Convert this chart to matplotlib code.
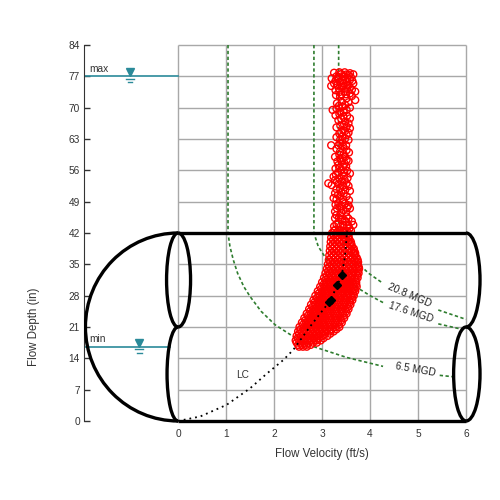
import matplotlib.pyplot as plt
from matplotlib.patches import Arc

plt.rcParams['font.family'] = ['Liberation Sans', 'DejaVu Sans']

# axis values
depth_ticks = [0, 7, 14, 21, 28, 35, 42, 49, 56, 63, 70, 77, 84]
vel_ticks = [0, 1, 2, 3, 4, 5, 6]
PIPE_TOP = 42
VEL_END = 6

# water levels
max_level = 77
min_level = 16.5
max_sym_x = -1.0
min_sym_x = -0.81
min_line_end = -0.17

# iso flow curves
q65_x = [1.04, 1.04, 1.08, 1.15, 1.24, 1.37, 1.5, 1.73, 2.02, 2.41, 2.8, 3.51, 4.27]
q65_y = [84, 42, 39, 36, 33, 30, 27.8, 24.5, 21.5, 18.8, 16.7, 14.2, 12.2]
q65_x2 = [5.45, 5.72]
q65_y2 = [10.2, 9.9]

q176_x = [2.83, 2.83, 2.92, 3.10, 3.36, 3.70, 4.0, 4.28]
q176_y = [84, 42, 39, 36, 33, 30, 28, 26.4]
q176_x2 = [5.42, 5.95]
q176_y2 = [21.7, 20.4]

q208_x = [3.345, 3.345, 3.46, 3.67, 3.97, 4.25]
q208_y = [84, 42, 39, 36, 33, 30.9]
q208_x2 = [5.42, 6.0]
q208_y2 = [24.8, 22.7]

flow_labels = ['20.8 MGD', '17.6 MGD', '6.5 MGD']
flow_label_x = [4.83, 4.85, 4.94]
flow_label_y = [28.1, 24.2, 11.4]
flow_label_rot = [-23, -18, -10]

# LC line
lc_x = [0, 0.46, 1.01, 1.5, 1.85, 2.19, 2.40, 2.75, 3.17, 3.32, 3.41, 3.48, 3.52]
lc_y = [0, 1.0, 3.6, 7.3, 10.6, 13.6, 15.9, 21.1, 26.9, 30.4, 32.6, 37, 42.5]

# black diamonds
dia_x = [3.41, 3.32, 3.19, 3.15]
dia_y = [32.7, 30.4, 27.1, 26.6]

# measured points - lower cloud, row by row
blob_rows_y = [16.6, 17.0, 17.5, 18.0, 18.5, 19.0, 19.5, 20.0, 20.5, 21.0, 21.5, 22.0,
               22.5, 23.0, 23.5, 24.0, 24.5, 25.0, 25.5, 26.0, 26.5, 27.0, 27.5, 28.0,
               28.5, 29.0, 29.5, 30.0, 30.5, 31.0, 31.5, 32.0, 32.5, 33.0, 33.5, 34.0,
               34.5, 35.0, 35.5, 36.0, 36.5, 37.0, 37.5, 38.0, 38.5, 39.0, 39.5, 40.0,
               40.5, 41.0, 41.5, 42.0, 42.5]
blob_rows_x = [
    [2.52, 2.60, 2.68],
    [2.50, 2.58, 2.67, 2.76],
    [2.47, 2.55, 2.64, 2.72, 2.81, 2.89],
    [2.45, 2.53, 2.62, 2.70, 2.79, 2.88, 2.97],
    [2.49, 2.58, 2.66, 2.75, 2.84, 2.93, 3.03],
    [2.47, 2.56, 2.65, 2.74, 2.83, 2.92, 3.01, 3.11],
    [2.52, 2.61, 2.70, 2.79, 2.88, 2.97, 3.06, 3.17],
    [2.50, 2.59, 2.68, 2.77, 2.86, 2.95, 3.05, 3.15, 3.24],
    [2.55, 2.64, 2.73, 2.82, 2.91, 3.00, 3.10, 3.20, 3.30],
    [2.53, 2.62, 2.71, 2.80, 2.89, 2.98, 3.08, 3.18, 3.28, 3.36],
    [2.60, 2.69, 2.78, 2.87, 2.96, 3.05, 3.15, 3.25, 3.35],
    [2.58, 2.67, 2.76, 2.85, 2.94, 3.03, 3.13, 3.23, 3.33, 3.41],
    [2.65, 2.74, 2.83, 2.92, 3.01, 3.10, 3.20, 3.30, 3.40],
    [2.63, 2.72, 2.81, 2.90, 2.99, 3.08, 3.18, 3.28, 3.38, 3.46],
    [2.70, 2.79, 2.88, 2.97, 3.06, 3.15, 3.25, 3.35, 3.45],
    [2.68, 2.77, 2.86, 2.95, 3.04, 3.13, 3.23, 3.33, 3.43, 3.51],
    [2.75, 2.84, 2.93, 3.02, 3.11, 3.20, 3.30, 3.40, 3.50],
    [2.73, 2.82, 2.91, 3.00, 3.09, 3.18, 3.28, 3.38, 3.48, 3.55],
    [2.80, 2.89, 2.98, 3.07, 3.16, 3.25, 3.35, 3.45, 3.54],
    [2.77, 2.86, 2.95, 3.04, 3.13, 3.22, 3.32, 3.42, 3.52, 3.59],
    [2.84, 2.93, 3.02, 3.11, 3.20, 3.29, 3.39, 3.49, 3.58],
    [2.82, 2.91, 3.00, 3.09, 3.18, 3.27, 3.37, 3.47, 3.57, 3.63],
    [2.89, 2.98, 3.07, 3.16, 3.25, 3.34, 3.44, 3.53, 3.62],
    [2.86, 2.95, 3.04, 3.13, 3.22, 3.31, 3.41, 3.51, 3.60, 3.66],
    [2.93, 3.02, 3.11, 3.20, 3.29, 3.38, 3.47, 3.56, 3.65],
    [2.91, 3.00, 3.09, 3.18, 3.27, 3.36, 3.45, 3.54, 3.63, 3.69],
    [2.98, 3.07, 3.16, 3.25, 3.34, 3.43, 3.52, 3.61, 3.68],
    [2.96, 3.05, 3.14, 3.23, 3.32, 3.41, 3.50, 3.59, 3.67, 3.72],
    [3.03, 3.12, 3.21, 3.30, 3.39, 3.48, 3.57, 3.65, 3.71],
    [3.00, 3.09, 3.18, 3.27, 3.36, 3.45, 3.54, 3.63, 3.71],
    [3.07, 3.16, 3.25, 3.34, 3.43, 3.52, 3.61, 3.70],
    [3.04, 3.13, 3.22, 3.31, 3.40, 3.49, 3.58, 3.67, 3.74],
    [3.10, 3.19, 3.28, 3.37, 3.46, 3.55, 3.64, 3.73],
    [3.07, 3.16, 3.25, 3.34, 3.43, 3.52, 3.61, 3.70, 3.76],
    [3.13, 3.22, 3.31, 3.40, 3.49, 3.58, 3.67, 3.75],
    [3.10, 3.19, 3.28, 3.37, 3.46, 3.55, 3.64, 3.72, 3.77],
    [3.15, 3.24, 3.33, 3.42, 3.51, 3.60, 3.69, 3.76],
    [3.12, 3.21, 3.30, 3.39, 3.48, 3.57, 3.66, 3.74],
    [3.17, 3.26, 3.35, 3.44, 3.53, 3.62, 3.70, 3.75],
    [3.14, 3.23, 3.32, 3.41, 3.50, 3.59, 3.68, 3.74],
    [3.19, 3.28, 3.37, 3.46, 3.55, 3.64, 3.72],
    [3.15, 3.24, 3.33, 3.42, 3.51, 3.60, 3.68],
    [3.20, 3.29, 3.38, 3.47, 3.56, 3.65, 3.69],
    [3.16, 3.25, 3.34, 3.43, 3.52, 3.61, 3.67],
    [3.21, 3.30, 3.39, 3.48, 3.57, 3.66],
    [3.17, 3.26, 3.35, 3.44, 3.53, 3.62],
    [3.22, 3.31, 3.40, 3.49, 3.58, 3.61],
    [3.18, 3.27, 3.36, 3.45, 3.54, 3.60],
    [3.23, 3.32, 3.41, 3.50, 3.57],
    [3.19, 3.28, 3.37, 3.46, 3.55],
    [3.24, 3.33, 3.42, 3.51],
    [3.21, 3.30, 3.39, 3.48, 3.55],
    [3.25, 3.34, 3.43, 3.51],
]

# measured points - upper column
col_x = [3.20, 3.19, 3.65, 3.55, 3.44, 3.34, 3.375, 3.48, 3.58, 3.51, 3.41, 3.31, 3.65,
         3.69, 3.58, 3.48, 3.29, 3.375, 3.51, 3.69, 3.41, 3.31, 3.48, 3.22, 3.375, 3.51,
         3.44, 3.58, 3.34, 3.48, 3.51, 3.44, 3.51, 3.48, 3.375, 3.19, 3.34, 3.44, 3.51,
         3.375, 3.48, 3.27, 3.51, 3.41, 3.34, 3.44, 3.58, 3.24, 3.13, 3.20, 3.31, 3.41,
         3.51, 3.375, 3.48, 3.58, 3.27, 3.24, 3.375, 3.51, 3.34, 3.48, 3.55, 3.31, 3.44,
         3.375, 3.51, 3.27, 3.65, 3.34, 3.44, 3.55, 3.375, 3.27, 3.48,
         3.30, 3.40, 3.50, 3.60, 3.45, 3.55, 3.35, 3.62, 3.28, 3.40, 3.52, 3.42,
         3.42, 3.36, 3.46, 3.40, 3.55, 3.43, 3.45, 3.38, 3.47, 3.40, 3.33, 3.45, 3.36,
         3.44, 3.30, 3.44, 3.40, 3.36, 3.50, 3.42, 3.30, 3.50, 3.40, 3.30, 3.55,
         3.25, 3.36, 3.47, 3.58, 3.33, 3.53, 3.63, 3.25, 3.45, 3.58, 3.36, 3.50, 3.28, 3.62,
         3.55, 3.35, 3.58, 3.30, 3.45, 3.28, 3.52, 3.40, 3.55, 3.38, 3.30, 3.58,
         3.36, 3.48, 3.30, 3.42, 3.55, 3.38, 3.50, 3.30, 3.56, 3.36, 3.43, 3.55, 3.32, 3.50,
         3.28, 3.36, 3.52, 3.46, 3.29, 3.53, 3.27, 3.47, 3.34, 3.55, 3.40, 3.33, 3.45, 3.30,
         3.56, 3.28, 3.43, 3.58, 3.52, 3.27, 3.40, 3.30, 3.55, 3.35, 3.47, 3.62, 3.25, 3.57,
         3.38, 3.60, 3.45]
col_y = [76.55, 74.85, 77.45, 77.3, 76.9, 76.9, 75.8, 76.2, 76.2, 75.1, 74.7, 75.1, 75.4,
         73.6, 73.2, 73.6, 72.8, 72.5, 72.1, 71.7, 71.3, 71.0, 70.6, 69.5, 69.1, 69.5,
         68.0, 67.6, 67.2, 66.9, 65.8, 65.0, 63.9, 63.1, 62.8, 61.6, 61.6, 61.3, 60.5,
         60.2, 59.0, 59.0, 58.3, 57.9, 57.2, 56.8, 55.3, 54.6, 53.1, 52.7, 53.5, 53.5,
         53.1, 52.0, 51.6, 51.4, 50.9, 49.8, 50.2, 50.2, 48.6, 48.6, 48.2, 47.5, 47.1,
         46.0, 45.7, 45.3, 43.8, 44.2, 43.8, 43.6, 42.7, 42.7, 42.3,
         77.0, 77.5, 77.4, 76.8, 75.5, 75.0, 74.3, 74.0, 76.0, 73.0, 74.2, 76.1,
         70.2, 68.6, 66.2, 64.5, 64.4, 62.2, 59.6, 58.6, 57.5, 56.0, 55.5, 54.8, 54.2,
         52.6, 51.8, 49.5, 48.0, 47.8, 46.7, 45.0, 44.0, 44.5, 41.8, 41.5, 41.4,
         77.8, 77.9, 77.9, 77.7, 76.3, 76.6, 76.0, 75.4, 74.8, 74.5, 73.5, 73.0, 73.9, 72.6,
         71.2, 70.4, 70.0, 69.8, 69.0, 68.3, 68.2, 67.5, 66.5, 66.0, 65.6, 65.4,
         64.2, 64.8, 63.4, 63.5, 62.8, 61.9, 61.6, 60.8, 60.0, 59.5, 58.7, 58.1, 58.0, 56.9,
         56.4, 56.5, 55.9, 55.6, 55.0, 54.3, 53.8, 53.8, 52.9, 52.5, 51.1, 50.5, 50.8, 49.5,
         49.3, 48.3, 48.9, 47.5, 47.6, 46.8, 46.5, 46.0, 45.2, 45.4, 44.8, 44.6, 43.5, 43.0,
         43.4, 42.5, 42.0]

blob_x = [x for row in blob_rows_x for x in row]
blob_y = [y for y, row in zip(blob_rows_y, blob_rows_x) for _ in row]

TEAL = '#2a8a99'
GREEN = '#2f7d2f'
GRID = '#a8a8a8'
TXT = '#333333'
FS = 7.3
PIPE_LW = 2.4

fig = plt.figure(figsize=(5, 5), dpi=100)
ax = fig.add_axes([0.168, 0.1446, 0.7978, 0.7788])
ax.set_xlim(-1.96, 6.35)
ax.set_ylim(-1.5, 85.5)

# grid only over the velocity range
ax.vlines(vel_ticks, 0, depth_ticks[-1], color=GRID, lw=1, zorder=1)
ax.hlines(depth_ticks, 0, VEL_END, color=GRID, lw=1, zorder=1)

# iso-flow curves
ls_g = (0, (2, 1.5))
for xs, ys in [(q65_x, q65_y), (q65_x2, q65_y2), (q176_x, q176_y), (q176_x2, q176_y2),
               (q208_x, q208_y), (q208_x2, q208_y2)]:
    ax.plot(xs, ys, color=GREEN, lw=1.2, ls=ls_g, zorder=2)
for lab, lx, ly, rot in zip(flow_labels, flow_label_x, flow_label_y, flow_label_rot):
    ax.text(lx, ly, lab, fontsize=FS, color='#222222', rotation=rot,
            ha='center', va='center', rotation_mode='anchor', zorder=7)

# water levels
ax.plot([-1.96, 0], [max_level, max_level], color=TEAL, lw=1.2, zorder=2)
ax.plot([-1.96, min_line_end], [min_level, min_level], color=TEAL, lw=1.2, zorder=2)
for sx, lev, name in [(max_sym_x, max_level, 'max'), (min_sym_x, min_level, 'min')]:
    ax.plot(sx, lev + 0.9, marker='v', ms=6, color=TEAL, ls='none', zorder=3)
    ax.plot([sx - 0.085, sx + 0.085], [lev - 0.5, lev - 0.5], color=TEAL, lw=1, zorder=3)
    ax.plot([sx - 0.05, sx + 0.05], [lev - 1.2, lev - 1.2], color=TEAL, lw=1, zorder=3)
    ax.text(-1.84, lev + 0.6, name, fontsize=FS, color=TXT, ha='left', va='bottom')

# measured data
ax.scatter(col_x + blob_x, col_y + blob_y, s=25, facecolors='none',
           edgecolors='red', linewidths=1.0, zorder=3)
ax.plot(lc_x, lc_y, color='black', lw=1.3, ls=(0, (1, 2.2)), zorder=4)
ax.plot(dia_x, dia_y, 'D', color='black', ms=4, ls='none', zorder=5)
ax.text(1.35, 10.3, 'LC', fontsize=FS, color=TXT, ha='center', va='center')

# pipe outline
pipe_kw = dict(color='black', lw=PIPE_LW, zorder=6)
ax.plot([0, VEL_END], [PIPE_TOP, PIPE_TOP], solid_capstyle='butt', **pipe_kw)
ax.plot([0, VEL_END], [0, 0], solid_capstyle='butt', **pipe_kw)
arcs = [
    ((0, 21), 3.86, 42, 90, 270),
    ((0, 31.5), 0.48, 21, 90, 270),
    ((0, 31.5), 0.52, 21, -90, 90),
    ((0, 10.5), 0.46, 21, 90, 270),
    ((6, 31.5), 0.58, 21, -90, 90),
    ((6, 10.5), 0.52, 21, 90, 270),
    ((6, 10.5), 0.58, 21, -90, 90),
]
for xy, w, h, t1, t2 in arcs:
    ax.add_patch(Arc(xy, w, h, theta1=t1, theta2=t2, **pipe_kw))

# axes styling
for s in ['top', 'right', 'bottom']:
    ax.spines[s].set_visible(False)
ax.spines['left'].set_bounds(0, 84)
ax.spines['left'].set_color(TXT)
ax.set_yticks(depth_ticks)
ax.set_xticks(vel_ticks)
ax.tick_params(axis='y', direction='in', length=4.3, width=1, color=TXT,
               labelsize=FS, labelcolor=TXT, pad=3)
ax.tick_params(axis='x', length=0, labelsize=FS, labelcolor=TXT, pad=1)

ax.set_xlabel('Flow Velocity (ft/s)', fontsize=8.3, color=TXT)
ax.xaxis.set_label_coords(0.596, -0.052)
ax.set_ylabel('Flow Depth (in)', fontsize=8.3, color=TXT)
ax.yaxis.set_label_coords(-0.1115, 0.2586)

fig.savefig('out.png', dpi=100)
